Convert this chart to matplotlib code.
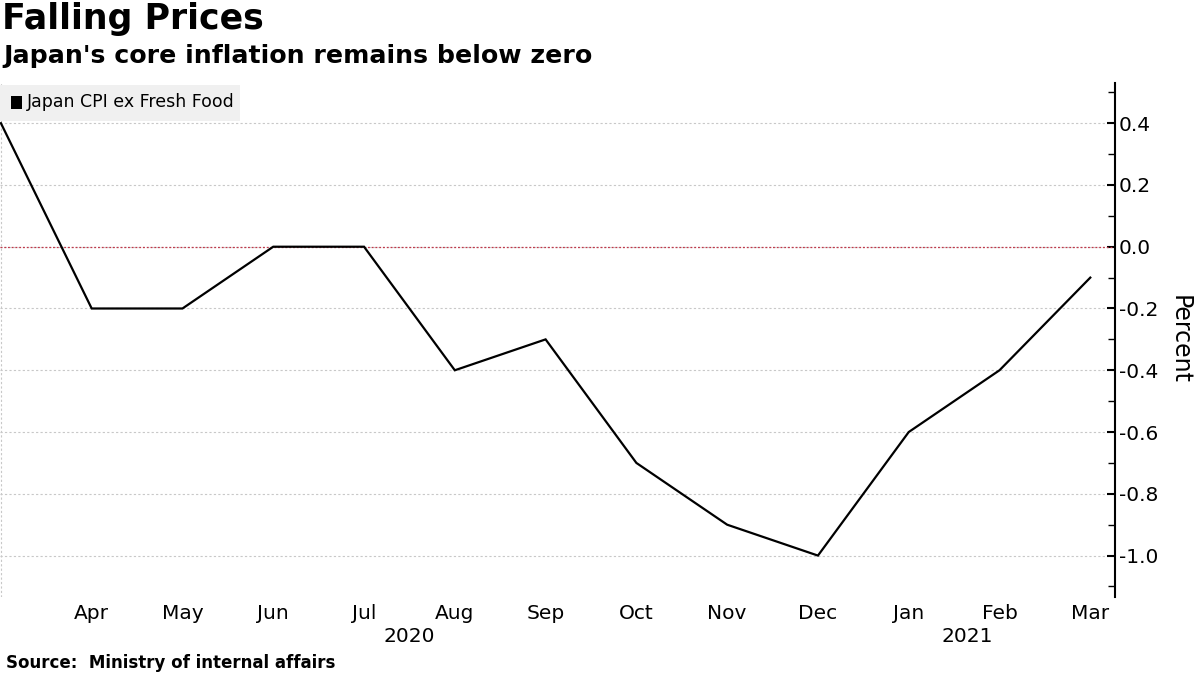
import matplotlib
matplotlib.use("Agg")
import matplotlib.pyplot as plt
from matplotlib.ticker import MultipleLocator
import matplotlib.patches as mpatches

months = ["Mar", "Apr", "May", "Jun", "Jul", "Aug", "Sep", "Oct", "Nov", "Dec", "Jan", "Feb", "Mar"]
values = [0.4, -0.2, -0.2, 0.0, 0.0, -0.4, -0.3, -0.7, -0.9, -1.0, -0.6, -0.4, -0.1]
series_name = "Japan CPI ex Fresh Food"
years = ["2020", "2021"]
year_pos = [4.5, 10.65]

plt.rcParams['font.family'] = ['DejaVu Sans']

fig = plt.figure(figsize=(12, 6.75), dpi=100)
ax = fig.add_axes([0.0, 0.1156, 0.929, 0.7614])

x = list(range(len(values)))
ax.plot(x, values, color="black", lw=1.6, zorder=3, solid_joinstyle="miter")
ax.axhline(0, color="#c0394b", lw=0.9, ls=(0, (1.5, 1.5)), zorder=2)

ax.set_xlim(-0.01, 12.27)
ax.set_ylim(-1.134, 0.53)

ax.yaxis.tick_right()
ax.yaxis.set_label_position("right")
ax.yaxis.set_minor_locator(MultipleLocator(0.1))
ax.set_yticks([0.4, 0.2, 0.0, -0.2, -0.4, -0.6, -0.8, -1.0])
ax.set_yticklabels(["0.4", "0.2", "0.0", "-0.2", "-0.4", "-0.6", "-0.8", "-1.0"])
ax.tick_params(axis="y", which="major", direction="in", length=6, width=1.5, labelsize=14.5, pad=3)
ax.tick_params(axis="y", which="minor", direction="in", length=5, width=1)

ax.set_xticks(x[1:])
ax.set_xticklabels(months[1:])
ax.tick_params(axis="x", which="major", length=0, labelsize=14.5, pad=5)

for s in ["top", "left", "bottom"]:
    ax.spines[s].set_visible(False)
ax.spines["right"].set_linewidth(1.5)

ax.set_xticks(x, minor=True)
ax.grid(True, which="major", axis="y", color="#c8c8c8", ls=(0, (2, 2)), lw=0.8)
ax.grid(True, which="minor", axis="x", color="#c8c8c8", ls=(0, (2, 2)), lw=0.8)
ax.grid(False, which="minor", axis="y")
ax.grid(False, which="major", axis="x")
ax.tick_params(axis="x", which="minor", length=0)

for yr, xp in zip(years, year_pos):
    ax.text(xp, -0.058, yr, transform=ax.get_xaxis_transform(), ha="center", va="top", fontsize=14.5)

ax.set_ylabel("Percent", fontsize=17, rotation=-90, labelpad=24)

# legend box
fig.add_artist(mpatches.Rectangle((0.0, 1 - 121 / 675), 240 / 1200, 36 / 675,
                                  transform=fig.transFigure, facecolor="#f0f0f0",
                                  edgecolor="none", zorder=5))
fig.add_artist(mpatches.Rectangle((11 / 1200, 1 - 109 / 675), 11 / 1200, 13 / 675,
                                  transform=fig.transFigure, facecolor="black",
                                  edgecolor="none", zorder=6))
fig.text(27 / 1200, 1 - 102 / 675, series_name, fontsize=12.5, va="center", ha="left", zorder=7)

fig.text(0.002, 1 - 2 / 675, "Falling Prices", fontsize=25, fontweight="bold", va="top", ha="left")
fig.text(0.003, 1 - 44 / 675, "Japan's core inflation remains below zero", fontsize=18.2,
         fontweight="bold", va="top", ha="left")
fig.text(0.005, 1 - 663 / 675, "Source:  Ministry of internal affairs", fontsize=12,
         fontweight="bold", va="center", ha="left")

fig.savefig("out.png", dpi=100)
